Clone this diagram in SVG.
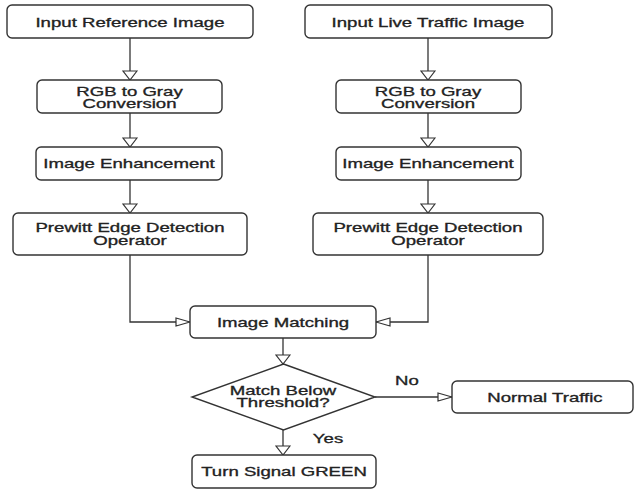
<svg xmlns="http://www.w3.org/2000/svg" width="635" height="491" viewBox="0 0 635 491">
<style>
.box{fill:#fff;stroke:#333;stroke-width:1.4}
.ln{fill:none;stroke:#333;stroke-width:1.3}
.t{font-family:"Liberation Sans",Arial,sans-serif;font-size:12px;fill:#222;stroke:#222;stroke-width:0.3;text-anchor:middle}
</style>
<defs>
<marker id="aV" markerUnits="userSpaceOnUse" markerWidth="12" markerHeight="16" viewBox="0 0 12 16" refX="10" refY="8" orient="auto">
<path d="M1,1 L10,8 L1,15 Z" fill="#fff" stroke="#333" stroke-width="1.2"/>
</marker>
<marker id="aH" markerUnits="userSpaceOnUse" markerWidth="16" markerHeight="10" viewBox="0 0 16 10" refX="15" refY="5" orient="auto">
<path d="M1,1 L15,5 L1,9 Z" fill="#fff" stroke="#333" stroke-width="1.2"/>
</marker>
</defs>
<rect width="635" height="491" fill="#fff"/>
<g id="connectors">
<path class="ln" d="M130,38 V80" marker-end="url(#aV)"/>
<path class="ln" d="M130,113 V147" marker-end="url(#aV)"/>
<path class="ln" d="M130,180 V213" marker-end="url(#aV)"/>
<path class="ln" d="M428,38 V80" marker-end="url(#aV)"/>
<path class="ln" d="M428,113 V147" marker-end="url(#aV)"/>
<path class="ln" d="M428,180 V213" marker-end="url(#aV)"/>
<path class="ln" d="M130,255 V322 H190" marker-end="url(#aH)"/>
<path class="ln" d="M428,255 V322 H376" marker-end="url(#aH)"/>
<path class="ln" d="M283,338 V364" marker-end="url(#aV)"/>
<path class="ln" d="M283,430 V455" marker-end="url(#aV)"/>
<path class="ln" d="M375,397 H452" marker-end="url(#aH)"/>
<text class="t" transform="translate(407,385) scale(1.55,1)">No</text>
<text class="t" transform="translate(328,443) scale(1.55,1)">Yes</text>
</g>
<g id="n1">
<rect class="box" x="7" y="5" width="246" height="33" rx="5"/>
<text class="t" transform="translate(130,26.5) scale(1.55,1)">Input Reference Image</text>
</g>
<g id="n2">
<rect class="box" x="37" y="80" width="185" height="33" rx="5"/>
<text class="t" transform="translate(129.5,95.5) scale(1.55,1)">RGB to Gray</text>
<text class="t" transform="translate(129.5,107.5) scale(1.55,1)">Conversion</text>
</g>
<g id="n3">
<rect class="box" x="36" y="147" width="186" height="33" rx="5"/>
<text class="t" transform="translate(129,168) scale(1.55,1)">Image Enhancement</text>
</g>
<g id="n4">
<rect class="box" x="13" y="213" width="234" height="42" rx="5"/>
<text class="t" transform="translate(130,232) scale(1.55,1)">Prewitt Edge Detection</text>
<text class="t" transform="translate(130,244.5) scale(1.55,1)">Operator</text>
</g>
<g id="n5">
<rect class="box" x="305" y="5" width="247" height="33" rx="5"/>
<text class="t" transform="translate(428,26.5) scale(1.55,1)">Input Live Traffic Image</text>
</g>
<g id="n6">
<rect class="box" x="336" y="80" width="185" height="33" rx="5"/>
<text class="t" transform="translate(428,95.5) scale(1.55,1)">RGB to Gray</text>
<text class="t" transform="translate(428,107.5) scale(1.55,1)">Conversion</text>
</g>
<g id="n7">
<rect class="box" x="336" y="147" width="185" height="33" rx="5"/>
<text class="t" transform="translate(428,168) scale(1.55,1)">Image Enhancement</text>
</g>
<g id="n8">
<rect class="box" x="313" y="213" width="230" height="42" rx="5"/>
<text class="t" transform="translate(428,232) scale(1.55,1)">Prewitt Edge Detection</text>
<text class="t" transform="translate(428,244.5) scale(1.55,1)">Operator</text>
</g>
<g id="n9">
<rect class="box" x="190" y="306" width="186" height="32" rx="5"/>
<text class="t" transform="translate(283,326.5) scale(1.55,1)">Image Matching</text>
</g>
<g id="n10">
<polygon class="box" points="283.5,364 375,397 283.5,430 192,397"/>
<text class="t" transform="translate(283,395) scale(1.55,1)">Match Below</text>
<text class="t" transform="translate(283,407) scale(1.55,1)">Threshold?</text>
</g>
<g id="n11">
<rect class="box" x="452" y="381" width="181" height="32" rx="5"/>
<text class="t" transform="translate(545,401.5) scale(1.55,1)">Normal Traffic</text>
</g>
<g id="n12">
<rect class="box" x="192" y="455" width="184" height="33" rx="5"/>
<text class="t" transform="translate(284,476) scale(1.55,1)">Turn Signal GREEN</text>
</g>
</svg>
